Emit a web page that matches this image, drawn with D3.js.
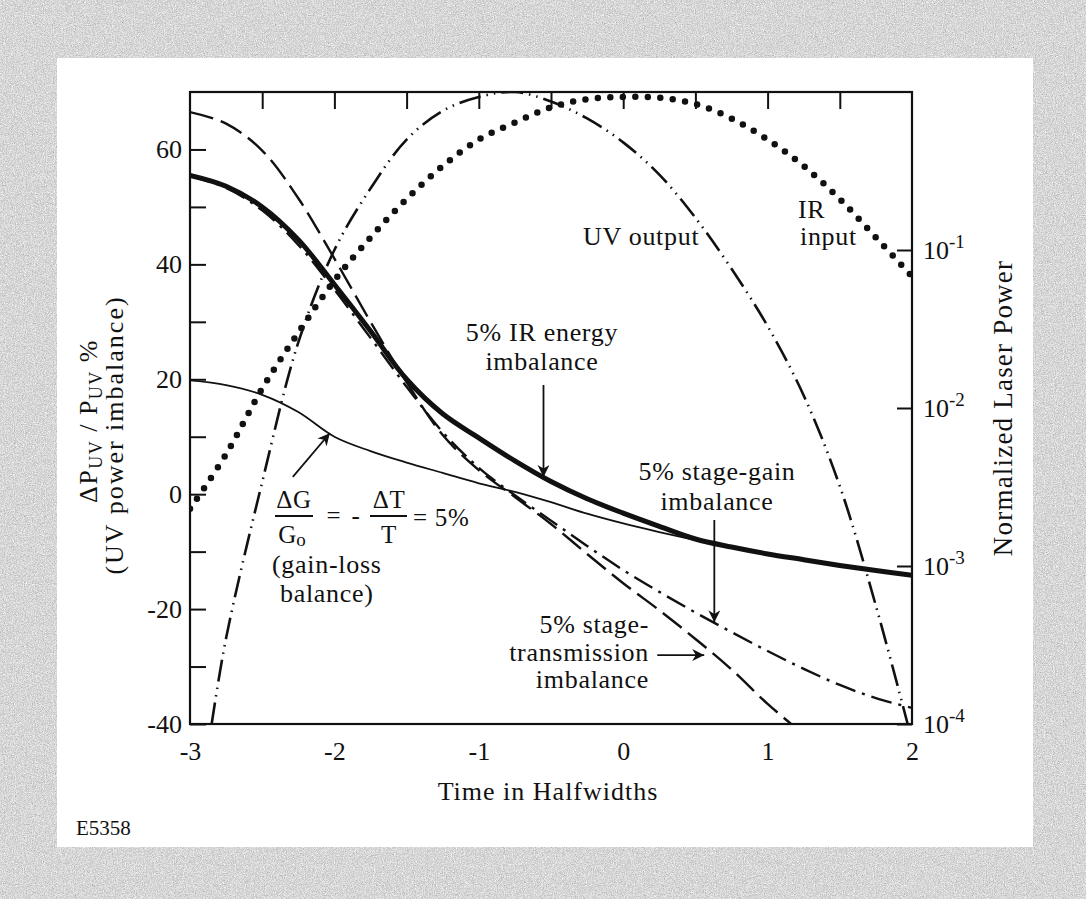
<!DOCTYPE html>
<html>
<head>
<meta charset="utf-8">
<script src="https://cdn.jsdelivr.net/npm/d3@7"></script>
<style>
  body { margin: 0; background: #fff; }
  svg { display: block; }
  text { font-family: "Liberation Serif", "Times New Roman", serif; fill: #111; }
</style>
</head>
<body>
<svg id="chart" width="1086" height="899"></svg>
<script>
// ---- data -------------------------------------------------------------
// time axis, in pulse halfwidths
const time = [-3, -2.75, -2.5, -2.25, -2, -1.75, -1.5, -1.25, -1, -0.75, -0.5,
              -0.25, 0, 0.25, 0.5, 0.75, 1, 1.25, 1.5, 1.75, 2];

// UV power imbalance (%), left axis
const irEnergyImbalance = [55.5, 53.6, 50.0, 44.3, 36.5, 28.4, 20.0, 14.0, 9.8, 5.8, 2.2,
                           -0.8, -3.3, -5.6, -7.8, -9.2, -10.4, -11.4, -12.4, -13.3, -14.1];
const gainLossBalance   = [19.8, 19.0, 17.3, 14.3, 10.0, 7.5, 5.5, 3.7, 1.9, 0.4, -1.4,
                           -3.4, -5.1, -6.6, -8.0, -9.3, -10.4, -11.4, -12.4, -13.3, -14.1];
const stageGainImbalance = [55.4, 53.3, 49.4, 43.4, 35.6, 27.2, 18.7, 10.8, 4.6, -0.2, -4.6,
                            -9.0, -13.2, -17.0, -20.6, -24.0, -27.3, -30.4, -33.2, -35.5, -37.2];
const transTime = [-3, -2.75, -2.5, -2.25, -2, -1.75, -1.5, -1.25, -1, -0.75, -0.5,
                   -0.25, 0, 0.25, 0.5, 0.75, 1, 1.25];
const stageTransImbalance = [66.5, 64.5, 59.8, 51.5, 41.0, 30.0, 19.5, 10.3, 4.2, -0.5, -5.2,
                             -10.4, -15.5, -20.2, -25.2, -30.5, -36.5, -41.8];

// normalized laser power, right axis (log)
const irInput = [0.0023, 0.0051, 0.0133, 0.030, 0.064, 0.12, 0.21, 0.34, 0.50, 0.64, 0.80,
                 0.90, 0.93, 0.92, 0.84, 0.68, 0.50, 0.34, 0.21, 0.12, 0.068];
const uvTime = [-2.85, -2.75, -2.5, -2.25, -2, -1.75, -1.5, -1.25, -1, -0.75, -0.5,
                -0.25, 0, 0.25, 0.5, 0.75, 1, 1.25, 1.5, 1.75, 1.97];
const uvOutput = [1.0e-4, 3.5e-4, 3.4e-3, 0.026, 0.10, 0.245, 0.50, 0.76, 0.93, 1.0, 0.87,
                  0.68, 0.48, 0.30, 0.16, 0.076, 0.033, 0.012, 0.0032, 5.6e-4, 1.0e-4];

// ticks
const xTickLabels = [-3, -2, -1, 0, 1, 2];
const xMinorTicks = [-2.5, -2, -1.5, -1, -0.5, 0, 0.5, 1, 1.5];
const leftTicks = [60, 40, 20, 0, -20, -40];
const leftMinorTicks = [50, 30, 10, -10, -30];
const rightTicks = [1e-1, 1e-2, 1e-3, 1e-4];
const rightTickExp = ["-1", "-2", "-3", "-4"];

// ---- layout -----------------------------------------------------------
const W = 1086, H = 899;
const plot = { left: 190, right: 912, top: 92, bottom: 724 };
const ink = "#111";

const svg = d3.select("#chart");
const defs = svg.append("defs");

// speckled grey frame around the sheet
const grain = defs.append("filter").attr("id", "grain")
  .attr("x", 0).attr("y", 0).attr("width", "100%").attr("height", "100%");
grain.append("feTurbulence").attr("type", "fractalNoise")
  .attr("baseFrequency", 0.9).attr("numOctaves", 3).attr("seed", 11).attr("result", "n");
grain.append("feColorMatrix").attr("in", "n").attr("type", "matrix")
  .attr("values", "0.33 0.33 0.33 0 0  0.33 0.33 0.33 0 0  0.33 0.33 0.33 0 0  0 0 0 0 1")
  .attr("result", "g");
const ct = grain.append("feComponentTransfer").attr("in", "g");
["feFuncR", "feFuncG", "feFuncB"].forEach(f =>
  ct.append(f).attr("type", "discrete").attr("tableValues", "0.2 0.35 0.5 0.62 0.75 0.88 1 1"));

svg.append("rect").attr("width", W).attr("height", H).attr("fill", "#fff");
[[0, 0, W, 58], [0, 847, W, H - 847], [0, 58, 57, 789], [1033, 58, W - 1033, 789]]
  .forEach(([bx, by, bw, bh]) => {
    svg.append("rect").attr("x", bx).attr("y", by).attr("width", bw).attr("height", bh)
      .attr("fill", "#bbb").attr("filter", "url(#grain)");
  });

// scales
const x = d3.scaleLinear().domain([-3, 2]).range([plot.left, plot.right]);
const yL = d3.scaleLinear().domain([-40, 70]).range([plot.bottom, plot.top]);
const yR = d3.scaleLog().domain([1e-4, 1]).range([plot.bottom, plot.top]);

defs.append("clipPath").attr("id", "plotClip").append("rect")
  .attr("x", plot.left).attr("y", plot.top)
  .attr("width", plot.right - plot.left).attr("height", plot.bottom - plot.top);

const curves = svg.append("g").attr("clip-path", "url(#plotClip)");

const smooth = d3.curveCatmullRom.alpha(0.5);
const lineL = (xs, ys) => d3.line().curve(smooth)
  .x((d, i) => x(xs[i])).y(d => yL(d))(ys);
const lineR = (xs, ys) => d3.line().curve(smooth)
  .x((d, i) => x(xs[i])).y(d => yR(d))(ys);

const stroke = (sel, w, dash) => sel.attr("fill", "none").attr("stroke", ink)
  .attr("stroke-width", w).attr("stroke-dasharray", dash || null);

// IR input: heavy dots
curves.append("path").attr("d", lineR(time, irInput))
  .call(stroke, 6.5, "0 12.5").attr("stroke-linecap", "round");

// UV output: long dash, dot, dot
curves.append("path").attr("d", lineR(uvTime, uvOutput)).call(stroke, 2.6, "22 6 1.5 6 1.5 6");

// 5% stage-gain imbalance: dash-dot
curves.append("path").attr("d", lineL(time, stageGainImbalance)).call(stroke, 2.4, "21 7 3 7");

// 5% stage-transmission imbalance: long dashes
curves.append("path").attr("d", lineL(transTime, stageTransImbalance)).call(stroke, 2.4, "24 8");

// gain-loss balance: thin solid
curves.append("path").attr("d", lineL(time, gainLossBalance)).call(stroke, 1.8);

// 5% IR energy imbalance: heavy solid
curves.append("path").attr("d", lineL(time, irEnergyImbalance)).call(stroke, 5);

// ---- axes -------------------------------------------------------------
const hyphenFmt = d => (d < 0 ? "-" + Math.abs(d) : String(d));
const tidy = g => {
  g.select(".domain").remove();
  g.selectAll("line").attr("stroke", ink).attr("stroke-width", 2);
  g.selectAll("text").attr("font-size", 26).attr("font-family", "Liberation Serif").attr("fill", ink);
};

svg.append("g").attr("transform", `translate(${plot.left},0)`)
  .call(d3.axisLeft(yL).tickValues(leftTicks).tickSize(-16).tickPadding(8).tickFormat(hyphenFmt))
  .call(tidy);

svg.append("g").attr("transform", `translate(${plot.left},0)`)
  .call(d3.axisLeft(yL).tickValues(leftMinorTicks).tickSize(-16).tickFormat(""))
  .call(tidy);

svg.append("g").attr("transform", `translate(0,${plot.top})`)
  .call(d3.axisTop(x).tickValues(xMinorTicks).tickSize(-17).tickFormat(""))
  .call(tidy);

svg.append("g").attr("transform", `translate(0,${plot.bottom})`)
  .call(d3.axisBottom(x).tickValues(xTickLabels).tickSize(0).tickPadding(18).tickFormat(hyphenFmt))
  .call(tidy);

svg.append("g").attr("transform", `translate(${plot.right},0)`)
  .call(d3.axisRight(yR).tickValues(rightTicks).tickSize(-15).tickFormat(""))
  .call(tidy);

// decade labels 10^n
rightTicks.forEach((v, i) => {
  const t = svg.append("text").attr("x", plot.right + 11).attr("y", yR(v) + 9)
    .attr("font-size", 26);
  t.append("tspan").text("10");
  t.append("tspan").attr("dy", -11).attr("font-size", 19).text(rightTickExp[i]);
});

// frame
svg.append("rect").attr("x", plot.left).attr("y", plot.top)
  .attr("width", plot.right - plot.left).attr("height", plot.bottom - plot.top)
  .attr("fill", "none").attr("stroke", ink).attr("stroke-width", 2.2);

// ---- titles -----------------------------------------------------------
svg.append("text").attr("x", (plot.left + plot.right) / 2 - 3).attr("y", 800)
  .attr("text-anchor", "middle").attr("font-size", 26).attr("letter-spacing", 1)
  .text("Time in Halfwidths");

svg.append("text").attr("x", 76).attr("y", 835).attr("font-size", 21).text("E5358");

// left title (two lines)
const lt1 = svg.append("text").attr("transform", "translate(97,421) rotate(-90)")
  .attr("text-anchor", "middle").attr("font-size", 26).attr("letter-spacing", 1.5);
lt1.append("tspan").text("\u0394P");
lt1.append("tspan").attr("dy", 5).attr("font-size", 18).text("UV");
lt1.append("tspan").attr("dy", -5).text(" / P");
lt1.append("tspan").attr("dy", 5).attr("font-size", 18).text("UV");
lt1.append("tspan").attr("dy", -5).text(" %");

svg.append("text").attr("transform", "translate(123,435) rotate(-90)")
  .attr("text-anchor", "middle").attr("font-size", 26).attr("letter-spacing", 2)
  .text("(UV power imbalance)");

// right title
svg.append("text").attr("transform", "translate(1012,408) rotate(-90)")
  .attr("text-anchor", "middle").attr("font-size", 27).attr("letter-spacing", 1.2)
  .text("Normalized Laser Power");

// ---- annotations ------------------------------------------------------
const note = (tx, ty, str, anchor = "start", size = 26) =>
  svg.append("text").attr("x", tx).attr("y", ty).attr("text-anchor", anchor)
    .attr("font-size", size).attr("letter-spacing", 0.7).text(str);

note(583, 245, "UV output");
note(798, 218, "IR");
note(800, 245, "input");
note(542, 341, "5% IR energy", "middle");
note(542, 370, "imbalance", "middle");
note(717, 480, "5% stage-gain", "middle");
note(717, 510, "imbalance", "middle");
note(649, 633, "5% stage-", "end");
note(649, 661, "transmission", "end");
note(649, 688, "imbalance", "end");
note(272, 573, "(gain-loss");
note(280, 602, "balance)");

// gain / loss fraction
note(294, 508, "\u0394G", "middle", 25);
const go = svg.append("text").attr("x", 292).attr("y", 543).attr("text-anchor", "middle")
  .attr("font-size", 25);
go.append("tspan").text("G");
go.append("tspan").attr("dy", 3).attr("font-size", 19).text("o");
note(334, 524, "=", "middle", 25);
note(356, 524, "-", "middle", 25);
note(389, 508, "\u0394T", "middle", 25);
note(389, 543, "T", "middle", 25);
note(413, 526, "= 5%", "start", 25);
svg.append("line").attr("x1", 275).attr("x2", 313).attr("y1", 516).attr("y2", 516)
  .attr("stroke", ink).attr("stroke-width", 2);
svg.append("line").attr("x1", 370).attr("x2", 407).attr("y1", 516).attr("y2", 516)
  .attr("stroke", ink).attr("stroke-width", 2);

// arrows, tips placed on the curves they point to
defs.append("marker").attr("id", "head").attr("viewBox", "0 0 10 10")
  .attr("refX", 10).attr("refY", 5).attr("markerWidth", 12).attr("markerHeight", 12)
  .attr("markerUnits", "userSpaceOnUse").attr("orient", "auto")
  .append("path").attr("d", "M0,0 L10,5 L0,10 L3,5 Z").attr("fill", ink);

const arrow = (x1, y1, x2, y2) =>
  svg.append("line").attr("x1", x(x1)).attr("y1", yL(y1)).attr("x2", x(x2)).attr("y2", yL(y2))
    .attr("stroke", ink).attr("stroke-width", 1.8).attr("marker-end", "url(#head)");

arrow(-0.552, 19.0, -0.552, 3.0);   // IR energy imbalance
arrow(0.631, -4.5, 0.631, -22.3);   // stage-gain imbalance
arrow(0.236, -28.0, 0.561, -28.0);  // stage-transmission imbalance
arrow(-2.288, 3.0, -2.032, 10.6);   // gain-loss balance
</script>
</body>
</html>
